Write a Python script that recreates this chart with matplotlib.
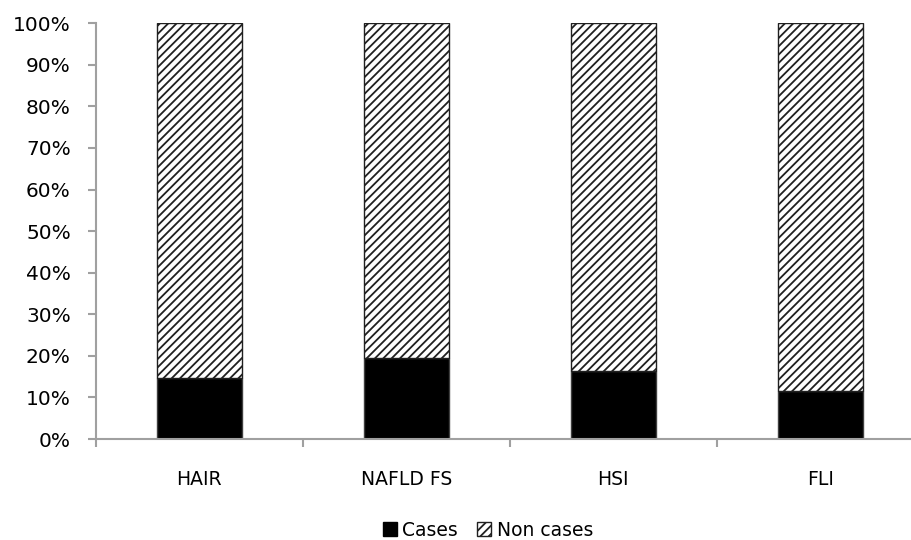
import matplotlib
matplotlib.use("Agg")
import matplotlib.pyplot as plt
from matplotlib.patches import Patch
from matplotlib.ticker import FuncFormatter

categories = ["HAIR", "NAFLD FS", "HSI", "FLI"]
cases = [14.6, 19.4, 16.4, 11.6]
non_cases = [100 - c for c in cases]

plt.rcParams["font.family"] = ["DejaVu Sans"]
plt.rcParams["hatch.linewidth"] = 1.3

fig = plt.figure(figsize=(9.12, 5.4), dpi=100)
ax = fig.add_axes([0.105, 0.187, 0.908, 0.770])

x = range(len(categories))
ax.bar(x, cases, width=0.41, color="black", edgecolor="#404040", linewidth=1)
ax.bar(x, non_cases, width=0.41, bottom=cases, color="white",
       edgecolor="#202020", hatch="////", linewidth=1)

ax.set_xlim(-0.5, 3.5)
ax.set_ylim(0, 100)
ax.set_yticks(range(0, 101, 10))
ax.yaxis.set_major_formatter(FuncFormatter(lambda v, p: f"{int(v)}%"))
ax.set_xticks([i + 0.5 for i in range(-1, 4)], minor=False)
ax.set_xticklabels([])
ax.set_xticks(list(x), minor=True)
ax.set_xticklabels(categories, minor=True)
ax.tick_params(axis="x", which="minor", length=0, pad=22, labelsize=13.5)
ax.tick_params(axis="x", which="major", length=6, color="#a0a0a0", width=1.5)
ax.tick_params(axis="y", length=6, color="#a0a0a0", width=1.5, pad=12,
               labelsize=14.5)

for side in ["top", "right"]:
    ax.spines[side].set_visible(False)
for side in ["left", "bottom"]:
    ax.spines[side].set_color("#a0a0a0")
    ax.spines[side].set_linewidth(1.5)

handles = [Patch(facecolor="black", edgecolor="black", label="Cases"),
           Patch(facecolor="white", edgecolor="#202020", hatch="////",
                 label="Non cases")]
fig.legend(handles=handles, loc="center", bbox_to_anchor=(0.535, 0.018),
           ncol=2, frameon=False, fontsize=13.5, handlelength=0.75,
           handleheight=0.75, handletextpad=0.3, columnspacing=1.0)

fig.savefig("out.png", dpi=100)
